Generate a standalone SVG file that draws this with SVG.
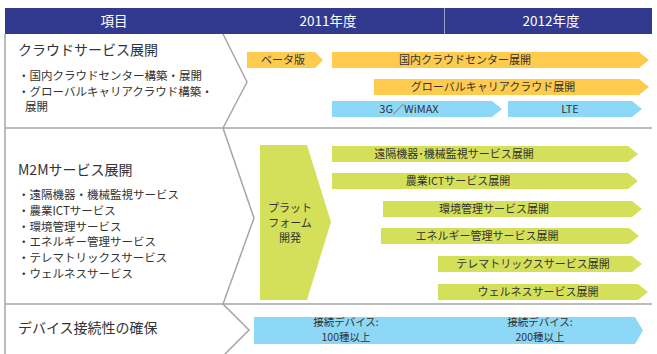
<svg xmlns="http://www.w3.org/2000/svg" width="657" height="354" viewBox="0 0 657 354">
<style>
text{font-family:"Noto Sans CJK JP","Noto Sans",sans-serif;fill:#333}
.hd{fill:#fff;font-size:13.5px;text-anchor:middle}
.h1{font-size:14px}
.b{font-size:11.5px}
.t{font-size:11px;text-anchor:middle}
.s{font-size:10.5px;text-anchor:middle}
.grid{fill:none;stroke:#a6a6a6;stroke-width:1.5}
.y{fill:#FFCB4F}
.c{fill:#8DD8F6}
.g{fill:#D5E05A}
</style>
<rect width="657" height="354" fill="#fff"/>
<g id="header">
<rect x="5" y="8" width="647" height="26" fill="#313A8E"/>
<line x1="444.5" y1="8" x2="444.5" y2="34" stroke="#9a9fc8" stroke-width="1"/>
<text class="hd" x="114" y="26">項目</text>
<text class="hd" x="328" y="26">2011年度</text>
<text class="hd" x="551" y="26">2012年度</text>
</g>
<g id="grid" class="grid">
<path d="M5,34 V354"/>
<path d="M5,128 H652 M5,304 H652"/>
<path d="M223,34 L247,82 L223,128 L254,218 L223,304 L249,330 L223,356"/>
</g>
<g id="connectors"></g>
<g id="row-cloud">
<text class="h1" x="18" y="55">クラウドサービス展開</text>
<text class="b" x="18" y="80">・国内クラウドセンター構築・展開</text>
<text class="b" x="18" y="95.5">・グローバルキャリアクラウド構築・</text>
<text class="b" x="25" y="111">展開</text>
</g>
<g id="beta">
<polygon class="y" points="247,52 315,52 323,60 315,68 247,68"/>
<text class="t" x="283" y="64">ベータ版</text>
</g>
<g id="domestic-cloud">
<polygon class="y" points="332,52 639,52 649,60 639,68 332,68"/>
<text class="t" x="465" y="64">国内クラウドセンター展開</text>
</g>
<g id="global-cloud">
<polygon class="y" points="374,79 639,79 649,87 639,95 374,95"/>
<text class="t" x="493" y="91">グローバルキャリアクラウド展開</text>
</g>
<g id="wimax">
<polygon class="c" points="332,101 492,101 502,109 492,117 332,117"/>
<text class="t" x="409" y="113">3G／WiMAX</text>
</g>
<g id="lte">
<polygon class="c" points="508,101 632,101 642,109 632,117 508,117"/>
<text class="t" x="570" y="113">LTE</text>
</g>
<g id="row-m2m">
<text class="h1" x="18" y="175">M2Mサービス展開</text>
<text class="b" x="18" y="199">・遠隔機器・機械監視サービス</text>
<text class="b" x="18" y="215">・農業ICTサービス</text>
<text class="b" x="18" y="231">・環境管理サービス</text>
<text class="b" x="18" y="246">・エネルギー管理サービス</text>
<text class="b" x="18" y="262">・テレマトリックスサービス</text>
<text class="b" x="18" y="278">・ウェルネスサービス</text>
</g>
<g id="platform">
<polygon class="g" points="260,145 307,145 331,222 307,300 260,300"/>
<text class="t" x="290" y="212">プラット</text>
<text class="t" x="290" y="227">フォーム</text>
<text class="t" x="290" y="242">開発</text>
</g>
<g id="remote">
<polygon class="g" points="332,146 628,146 638,154 628,162 332,162"/>
<text class="t" x="454" y="158">遠隔機器･機械監視サービス展開</text>
</g>
<g id="agri">
<polygon class="g" points="332,173 628,173 638,181 628,189 332,189"/>
<text class="t" x="458" y="185">農業ICTサービス展開</text>
</g>
<g id="env">
<polygon class="g" points="383,201 632,201 642,209 632,217 383,217"/>
<text class="t" x="494" y="213">環境管理サービス展開</text>
</g>
<g id="energy">
<polygon class="g" points="381,228 629,228 639,236 629,244 381,244"/>
<text class="t" x="487" y="240">エネルギー管理サービス展開</text>
</g>
<g id="telematics">
<polygon class="g" points="438,256 632,256 642,264 632,272 438,272"/>
<text class="t" x="533" y="268">テレマトリックスサービス展開</text>
</g>
<g id="wellness">
<polygon class="g" points="438,284 638,284 648,292 638,300 438,300"/>
<text class="t" x="538" y="296">ウェルネスサービス展開</text>
</g>
<g id="row-device">
<text class="h1" x="18" y="333">デバイス接続性の確保</text>
</g>
<g id="devices">
<polygon class="c" points="254,317 635,317 643,330.5 635,344 254,344"/>
<text class="s" x="346" y="326">接続デバイス:</text>
<text class="s" x="346" y="340.5">100種以上</text>
<text class="s" x="540" y="326">接続デバイス:</text>
<text class="s" x="540" y="340.5">200種以上</text>
</g>
</svg>
